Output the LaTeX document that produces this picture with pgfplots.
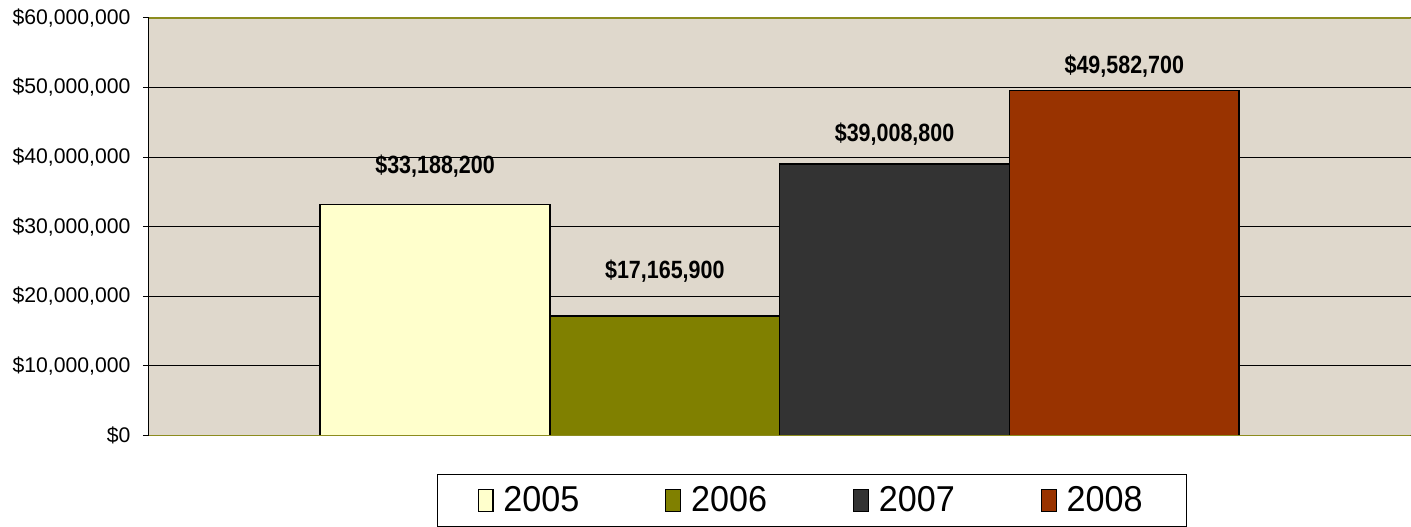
\documentclass[border=0pt]{standalone}
\usepackage{pgfplots}
\pgfplotsset{compat=1.18}
\usepackage{fontspec}
\setmainfont{Liberation Sans}
\newfontfamily\narrowfont[FakeStretch=0.86]{Liberation Sans}
\newfontfamily\legendfont[FakeStretch=0.95]{Liberation Sans}

\definecolor{bgbeige}{HTML}{DFD8CC}
\definecolor{oliveline}{HTML}{8C8C1E}
\definecolor{c2005}{HTML}{FFFFCC}
\definecolor{c2006}{HTML}{808000}
\definecolor{c2007}{HTML}{333333}
\definecolor{c2008}{HTML}{993300}

\begin{document}
\begin{tikzpicture}
\begin{axis}[
  scale only axis,
  width=631.5pt, height=209pt,
  xmin=-1, xmax=1, ymin=0, ymax=60000000,
  ybar=0pt, bar width=0.3642,
  axis background/.style={fill=bgbeige},
  axis x line=none,
  axis y line*=left,
  y axis line style={black, line width=0.6pt, -},
  scaled y ticks=false,
  xtick=\empty,
  ytick={0,10000000,20000000,30000000,40000000,50000000,60000000},
  yticklabels={{\$0},{\$10,000,000},{\$20,000,000},{\$30,000,000},{\$40,000,000},{\$50,000,000},{\$60,000,000}},
  yticklabel style={font=\fontsize{10.6}{12}\selectfont, xshift=-2.7pt},
  tick align=outside, major tick length=3pt,
  tick style={black, line width=0.5pt},
  ymajorgrids, grid style={black, line width=0.5pt},
  point meta=explicit symbolic,
  nodes near coords,
  nodes near coords style={font=\narrowfont\bfseries\fontsize{12.5}{14}\selectfont, anchor=center},
  legend style={at={(0.5257,-0.0933)}, anchor=north, legend columns=4, draw=black, line width=0.5pt,
    font=\legendfont\fontsize{18}{20}\selectfont, inner xsep=20pt, inner ysep=3.8pt,
    /tikz/every even column/.append style={column sep=41pt}},
  legend image code/.code={\draw[#1, line width=0.6pt] (0cm,-0.19cm) rectangle (0.26cm,0.19cm); \path (0.36cm,0cm);},
]
\addplot[fill=c2005, draw=black, line width=0.8pt, every node near coord/.append style={yshift=19pt}]
  coordinates {(0,33188200) [\$33,188,200]};
\addplot[fill=c2006, draw=black, line width=0.8pt, every node near coord/.append style={yshift=22.5pt}]
  coordinates {(0,17165900) [\$17,165,900]};
\addplot[fill=c2007, draw=black, line width=0.8pt, every node near coord/.append style={yshift=15pt}]
  coordinates {(0,39008800) [\$39,008,800]};
\addplot[fill=c2008, draw=black, line width=0.8pt, every node near coord/.append style={yshift=12pt}]
  coordinates {(0,49582700) [\$49,582,700]};
\legend{2005,2006,2007,2008}
\draw[oliveline, line width=0.8pt] (rel axis cs:0,1) -- (rel axis cs:1,1);
\draw[oliveline, line width=0.8pt] (rel axis cs:0,0) -- (rel axis cs:1,0);
\end{axis}
\path (current bounding box.south west) ++(-3pt,0pt);
\path (current bounding box.north west) ++(0pt,1pt);
\end{tikzpicture}
\end{document}
